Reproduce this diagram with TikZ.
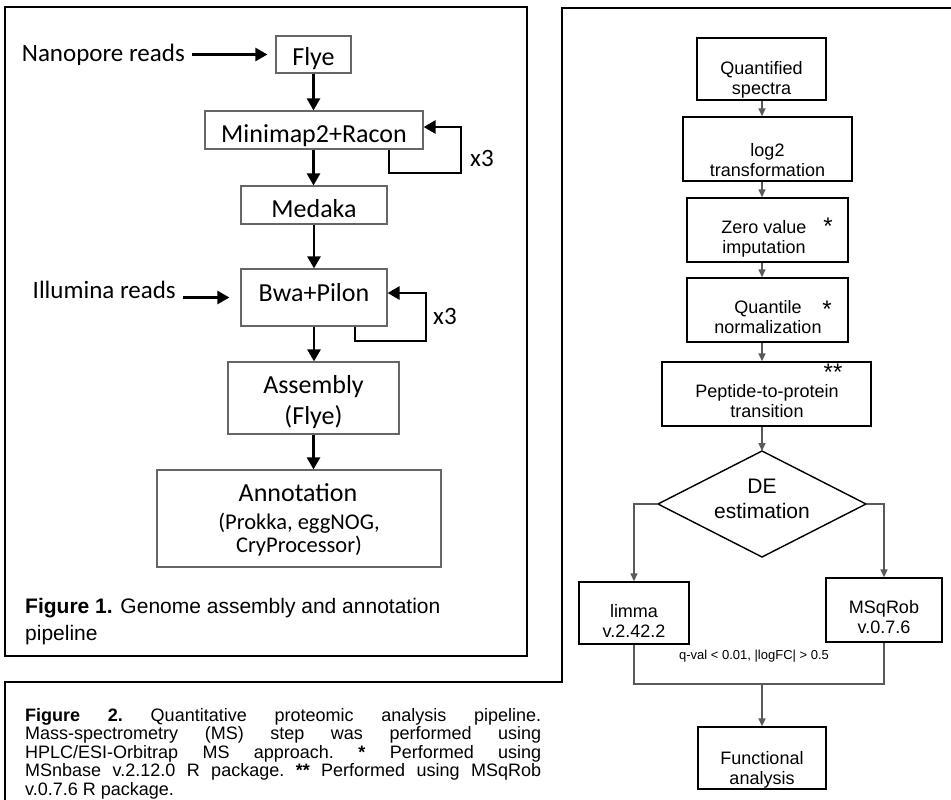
\documentclass[tikz,border=0pt]{standalone}
\usepackage{fontspec}
\setmainfont{Carlito}
\newfontfamily\hv{Liberation Sans}
\usetikzlibrary{arrows.meta,calc}
\begin{document}
\begin{tikzpicture}[x=1pt,y=-1pt,
  lbox/.style={draw=black!60, line width=1.2pt, inner sep=0pt},
  ltext/.style={inner sep=0pt, align=center, font=\fontsize{26}{31}\selectfont},
  lside/.style={inner sep=0pt, font=\fontsize{25}{30}\selectfont},
  lsmall/.style={inner sep=0pt, align=center, font=\fontsize{22.5}{22.5}\selectfont},
  larr/.style={line width=2.6pt, -{Triangle[width=13pt,length=12pt]}},
  lloop/.style={line width=2.6pt, -{Triangle[width=13pt,length=12pt]}},
  rbox/.style={draw=black, line width=1.4pt, inner sep=0pt},
  rtext/.style={inner sep=0pt, align=center, font=\hv\fontsize{18}{20.5}\selectfont},
  rstar/.style={inner sep=0pt, font=\hv\fontsize{24}{24}\selectfont},
  rarr/.style={draw=black!65, line width=1.5pt, -{Triangle[width=7pt,length=8pt]}},
  rline/.style={draw=black!65, line width=1.5pt},
  frame/.style={line width=2pt},
]
\useasboundingbox (0,0) rectangle (951,800);

% ---------- frames ----------
\draw[frame] (5,7) rectangle (527,656);
\draw[frame] (951,8) -- (562,8) -- (562,682) -- (5,682) -- (5,801);

% ---------- left diagram ----------
\node[lbox, minimum width=75, minimum height=37] (flye) at (313.5,54.5) {};
\node[lbox, minimum width=218, minimum height=38] (mini) at (314,130) {};
\node[lbox, minimum width=146, minimum height=38] (medaka) at (314,205) {};
\node[lbox, minimum width=146, minimum height=57] (bwa) at (314,297.5) {};
\node[lbox, minimum width=171, minimum height=72] (asm) at (313.5,398) {};
\node[lbox, minimum width=284, minimum height=97] (annot) at (299,518.5) {};

\node[ltext, anchor=base] (flyet) at (313.5,66) {Flye};
\node[ltext, anchor=base] (minit) at (314,142) {Minimap2+Racon};
\node[ltext, anchor=base] (medakat) at (314,217) {Medaka};
\node[ltext, anchor=base] (bwat) at (314,301) {Bwa+Pilon};
\node[ltext, anchor=base] (asmt) at (313.5,424) {Assembly\\(Flye)};
\node[ltext, anchor=base] (annott) at (298,501) {Annotation};
\node[lsmall, anchor=base] (annots) at (299,552) {(Prokka, eggNOG,\\CryProcessor)};

\node[lside, anchor=base east] (nano) at (185,62) {Nanopore reads};
\node[lside, anchor=base east] (illu) at (176,298) {Illumina reads};
\node[lside, anchor=base west] (x3a) at (470,166) {x3};
\node[lside, anchor=base west] (x3b) at (433,324) {x3};

\draw[larr] (nano.east |- flye.west) ++(7,0) -- ([xshift=-8]flye.west);
\draw[larr] (illu.east |- bwa.west) ++(7,0) -- ([xshift=-11]bwa.west);
\draw[larr] (flye.south) -- (flye.south |- mini.north);
\draw[larr] (flye.south |- mini.south) -- (flye.south |- medaka.north);
\draw[larr] (medaka.south) -- (bwa.north);
\draw[larr] (bwa.south) -- (bwa.south |- asm.north);
\draw[larr] (asm.south) -- (asm.south |- annot.north);

\coordinate (la1) at (389,173);
\coordinate (la2) at (461,127);
\draw[lloop] (la1 |- mini.south) -- (la1) -| (la2) -- (la2 -| mini.east);
\coordinate (lb1) at (355,341);
\coordinate (lb2) at (426,293);
\draw[lloop] (lb1 |- bwa.south) -- (lb1) -| (lb2) -- (lb2 -| bwa.east);

% ---------- caption 1 ----------
\node[anchor=base west, inner sep=0pt] (cap1a) at (25,613)
  {\hv\fontsize{21}{27}\selectfont\textbf{Figure 1.} Genome assembly and annotation};
\node[anchor=base west, inner sep=0pt] (cap1b) at (25,640)
  {\hv\fontsize{21}{27}\selectfont pipeline};

% ---------- caption 2 ----------
\node[anchor=base west, inner sep=0pt, text width=516pt, align=justify] (cap2) at (25,721)
  {\hv\fontsize{18}{18.5}\selectfont\parindent=0pt\frenchspacing
   \textbf{Figure 2.} Quantitative proteomic analysis pipeline.\linebreak
   Mass-spectrometry (MS) step was performed using\linebreak
   HPLC/ESI-Orbitrap MS approach. \textbf{*} Performed using\linebreak
   MSnbase v.2.12.0 R package. \textbf{**} Performed using MSqRob\linebreak
   v.0.7.6 R package.\par};

% ---------- right diagram ----------
\coordinate (cx) at (762,0);
\node[rbox, minimum width=129, minimum height=62] (q) at (761.5,69) {};
\node[rbox, minimum width=169, minimum height=64] (log) at (767.5,149) {};
\node[rbox, minimum width=161, minimum height=64] (zero) at (767.5,230) {};
\node[rbox, minimum width=161, minimum height=64] (quant) at (767.5,310) {};
\node[rbox, minimum width=209, minimum height=64] (pep) at (766.5,394) {};
\draw[rbox] (762,451) coordinate (de-n) -- (866,504) coordinate (de-e)
  -- (762,557) coordinate (de-s) -- (658,504) coordinate (de-w) -- cycle;
\node[rbox, minimum width=110, minimum height=62] (limma) at (634,613) {};
\node[rbox, minimum width=116, minimum height=64] (msq) at (884,610) {};
\node[rbox, minimum width=128, minimum height=62] (func) at (762,758) {};

\node[rtext, anchor=base] (qt) at (761.5,94.5) {Quantified\\spectra};
\node[rtext, anchor=base] (logt) at (767.5,176.5) {log2\\transformation};
\node[rtext, anchor=base] (zerot) at (764,253.5) {Zero value\\imputation};
\node[rtext, anchor=base] (quantt) at (768,333.5) {Quantile\\normalization};
\node[rtext, anchor=base] (pept) at (767,417.5) {Peptide-to-protein\\transition};
\node[rtext, anchor=base, font=\hv\fontsize{21}{25}\selectfont] (det) at (762,518) {DE\\estimation};
\node[rtext, anchor=base] (limmat) at (634,637.5) {limma\\v.2.42.2};
\node[rtext, anchor=base] (msqt) at (884,633.5) {MSqRob\\v.0.7.6};
\node[rtext, anchor=base] (funct) at (762,784.5) {Functional\\analysis};
\node[rtext, anchor=base, font=\hv\fontsize{13}{15}\selectfont] (crit) at (754,659) {q-val < 0.01, |logFC| > 0.5};

\node[rstar, anchor=base] (s1) at (828,234) {*};
\node[rstar, anchor=base] (s2) at (827,317) {*};
\node[rstar, anchor=base] (s3) at (833,380) {**};

\draw[rarr] (cx |- q.south) -- (cx |- log.north);
\draw[rarr] (cx |- log.south) -- (cx |- zero.north);
\draw[rarr] (cx |- zero.south) -- (cx |- quant.north);
\draw[rarr] (cx |- quant.south) -- (cx |- pep.north);
\draw[rarr] (cx |- pep.south) -- (de-n);
\draw[rarr] (de-w) -| (limma.north);
\draw[rarr] (de-e) -| (msq.north);
\coordinate (merge) at (762,684);
\draw[rline] (limma.south) |- (merge) -| (msq.south);
\draw[rarr] (merge) -- (func.north);
\end{tikzpicture}
\end{document}
